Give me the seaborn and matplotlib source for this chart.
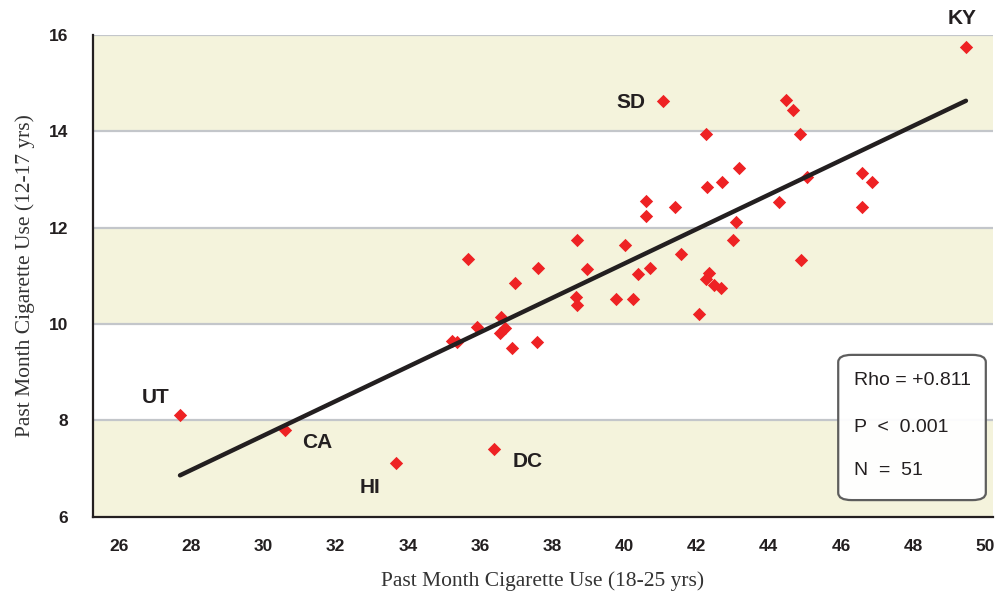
import matplotlib
matplotlib.use("Agg")
import matplotlib.pyplot as plt
import seaborn as sns
import pandas as pd
from matplotlib.patches import FancyBboxPatch

# Past month cigarette use by state (%)
young_adult = [49.46, 41.07, 44.47, 44.67, 42.26, 44.86, 43.17, 42.70, 42.29, 45.06,
               46.58, 46.86, 40.60, 41.40, 40.60, 44.28, 46.58, 43.09, 38.69, 43.00,
               40.02, 35.67, 41.57, 44.89, 37.61, 38.96, 40.71, 40.38, 42.35, 42.26,
               42.48, 42.68, 36.97, 38.66, 38.69, 39.77, 40.24, 42.07, 36.58, 36.69,
               35.92, 36.55, 35.22, 35.36, 36.89, 37.58, 27.69, 30.60, 33.67, 36.39]
youth = [15.74, 14.62, 14.64, 14.43, 13.94, 13.94, 13.23, 12.94, 12.84, 13.05,
         13.13, 12.94, 12.55, 12.43, 12.24, 12.53, 12.43, 12.12, 11.74, 11.74,
         11.63, 11.35, 11.45, 11.32, 11.16, 11.14, 11.16, 11.03, 11.05, 10.93,
         10.80, 10.74, 10.85, 10.56, 10.40, 10.52, 10.52, 10.21, 10.14, 9.91,
         9.93, 9.81, 9.64, 9.62, 9.50, 9.62, 8.12, 7.80, 7.12, 7.41]

# labelled states and where their names sit (data units)
state_names = ["KY", "SD", "UT", "CA", "HI", "DC"]
state_text_x = [48.96, 39.79, 26.64, 31.07, 32.67, 36.89]
state_text_y = [16.34, 14.60, 8.47, 7.54, 6.62, 7.16]

stats_lines = ["Rho = +0.811", "P  <  0.001", "N  =  51"]

df = pd.DataFrame({"x": young_adult, "y": youth})

sns.set_style("white")
sans = ["Liberation Sans", "DejaVu Sans"]
serif = ["Liberation Serif", "DejaVu Serif"]

fig = plt.figure(figsize=(9.97, 6.06), dpi=100)
ax = fig.add_axes([0.0933, 0.1469, 0.9027, 0.7961])

# alternating bands
band_color = "#F4F3DC"
for lo in [6, 10, 14]:
    ax.axhspan(lo, lo + 2, color=band_color, zorder=0, lw=0)
for yv in [8, 10, 12, 14, 16]:
    ax.axhline(yv, color="#C3C6CA", lw=1.6, zorder=1)

sns.regplot(data=df, x="x", y="y", ax=ax, ci=None, truncate=True, marker="D",
            scatter_kws=dict(s=46, color="#EE2224", alpha=1, linewidths=0, zorder=3),
            line_kws=dict(color="#231F20", lw=3.2, zorder=4))

for name, tx, ty in zip(state_names, state_text_x, state_text_y):
    ax.text(tx, ty, name, fontsize=15, fontweight="bold", color="#231F20",
            family=sans, ha="left", va="center", zorder=5, clip_on=False)

ax.set_xlim(25.28, 50.21)
ax.set_ylim(6, 16)
ax.set_xticks(range(26, 51, 2))
ax.set_yticks(range(6, 17, 2))

for lab in ax.get_xticklabels() + ax.get_yticklabels():
    lab.set_family(sans)
    lab.set_fontweight("bold")
    lab.set_fontsize(12.5)
    lab.set_color("#231F20")

ax.tick_params(axis="x", direction="out", length=6, width=1.3, color="#231F20", pad=10)
ax.tick_params(axis="y", length=0, pad=18)

ax.set_xlabel("Past Month Cigarette Use (18-25 yrs)", family=serif,
              fontsize=15.5, color="#333333", labelpad=12)
ax.set_ylabel("Past Month Cigarette Use (12-17 yrs)", family=serif,
              fontsize=15.5, color="#333333", labelpad=10)

sns.despine(ax=ax, top=True, right=True)
for side in ["left", "bottom"]:
    ax.spines[side].set_color("#231F20")
    ax.spines[side].set_linewidth(1.6)
    ax.spines[side].set_zorder(6)

# stats box
box = FancyBboxPatch((0.828, 0.035), 0.164, 0.301, boxstyle="round,pad=0,rounding_size=0.015",
                     transform=ax.transAxes, facecolor="white", edgecolor="#555555",
                     lw=1.6, alpha=0.95, zorder=7)
ax.add_patch(box)
for line, ty in zip(stats_lines, [0.282, 0.185, 0.097]):
    ax.text(0.845, ty, line, transform=ax.transAxes, family=sans,
            fontsize=14, color="#231F20", ha="left", va="center", zorder=8)

fig.savefig("out.png", dpi=100)
